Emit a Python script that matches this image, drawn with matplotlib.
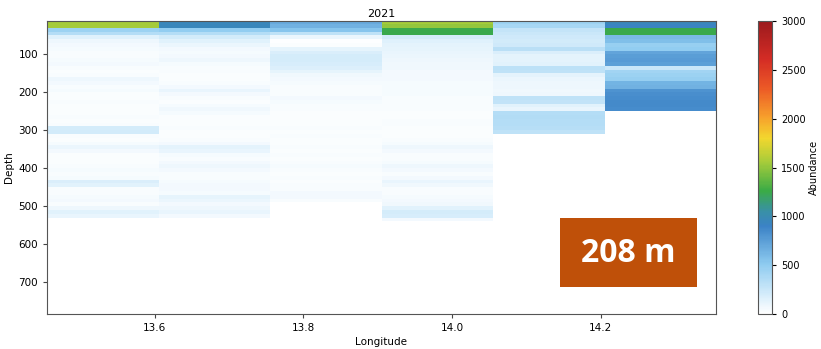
import numpy as np
import matplotlib
matplotlib.use("Agg")
import matplotlib.pyplot as plt
from matplotlib.colors import LinearSegmentedColormap
from matplotlib.patches import Rectangle

# Longitude cell edges (6 columns) and depth bins (10 m, 10..560 m)
lon_edges = [13.455, 13.605, 13.755, 13.905, 14.055, 14.205, 14.355]
depth_edges = list(range(10, 570, 10))

# Abundance per longitude column, one value per depth bin
col_1 = [1550, 1550, 450, 350, 160, 90, 70, 50, 40, 40, 50, 60, 40, 30, 40, 90, 60, 40, 50, 30,
         30, 40, 30, 30, 30, 40, 30, 40, 200, 220, 40, 30, 50, 100, 60, 30, 30, 30, 40, 50,
         40, 50, 180, 150, 40, 40, 50, 70, 40, 90, 150, 110, 0, 0, 0]
col_2 = [950, 950, 500, 350, 220, 150, 100, 60, 50, 60, 90, 50, 40, 40, 30, 30, 40, 60, 110, 60,
         40, 30, 50, 80, 50, 30, 30, 30, 40, 30, 30, 40, 60, 130, 110, 50, 40, 60, 90, 60,
         40, 40, 50, 70, 60, 50, 120, 100, 60, 90, 110, 60, 0, 0, 0]
col_3 = [700, 650, 550, 300, 100, 20, 30, 120, 180, 200, 200, 190, 170, 120, 80, 60, 50, 40, 40, 40,
         60, 50, 40, 40, 30, 30, 30, 30, 40, 30, 40, 30, 30, 40, 30, 40, 30, 40, 50, 40,
         30, 40, 30, 40, 40, 60, 60, 40, 0, 0, 0, 0, 0, 0, 0]
col_4 = [1550, 1500, 1250, 1250, 200, 160, 140, 120, 110, 100, 90, 80, 80, 70, 60, 60, 50, 50, 50, 50,
         40, 40, 40, 40, 30, 30, 40, 40, 30, 30, 30, 40, 50, 90, 60, 40, 40, 50, 90, 60,
         40, 60, 110, 80, 40, 40, 50, 70, 80, 150, 200, 190, 60, 0, 0]
col_5 = [450, 400, 280, 250, 230, 220, 230, 320, 180, 140, 130, 150, 310, 300, 140, 100, 90, 90, 80, 90,
         300, 290, 150, 110, 340, 360, 350, 340, 330, 300, 0, 0, 0, 0, 0, 0, 0, 0, 0, 0,
         0, 0, 0, 0, 0, 0, 0, 0, 0, 0, 0, 0, 0, 0, 0]
col_6 = [950, 920, 1250, 1250, 600, 580, 480, 500, 720, 760, 770, 740, 250, 430, 450, 480, 640, 650, 820, 840,
         850, 860, 860, 850, 0, 0, 0, 0, 0, 0, 0, 0, 0, 0, 0, 0, 0, 0, 0, 0,
         0, 0, 0, 0, 0, 0, 0, 0, 0, 0, 0, 0, 0, 0, 0]

x_ticks = [13.6, 13.8, 14.0, 14.2]
y_ticks = [100, 200, 300, 400, 500, 600, 700]
cbar_ticks = [0, 500, 1000, 1500, 2000, 2500, 3000]

abundance = np.array([col_1, col_2, col_3, col_4, col_5, col_6]).T

cmap = LinearSegmentedColormap.from_list("abund", [
    (0.0, "#ffffff"), (0.06, "#d9eefb"), (0.17, "#8ecbf0"), (0.30, "#3b82c6"),
    (0.35, "#3990a6"), (0.42, "#3aab46"), (0.52, "#a8cc3a"), (0.60, "#f2d72e"),
    (0.67, "#f7a12c"), (0.77, "#ec5a26"), (0.87, "#d42c25"), (1.0, "#9b1a1d")])

fig = plt.figure(figsize=(8.21, 3.49), dpi=100)
ax = fig.add_axes([47 / 821, 1 - 313.5 / 349, 669 / 821, 292.5 / 349])
mesh = ax.pcolormesh(lon_edges, depth_edges, abundance, cmap=cmap, vmin=0, vmax=3000)
ax.set_xlim(13.455, 14.355)
ax.set_ylim(783, 12)
ax.set_xticks(x_ticks)
ax.set_yticks(y_ticks)
ax.tick_params(labelsize=7.5, length=3, color="#444444")
for s in ax.spines.values():
    s.set_color("#555555")
ax.set_xlabel("Longitude", fontsize=7.5, labelpad=3)
ax.set_ylabel("Depth", fontsize=7.5, labelpad=3)
ax.set_title("2021", fontsize=8, pad=3)

cax = fig.add_axes([757.5 / 821, 1 - 314.3 / 349, 14.5 / 821, 293.6 / 349])
cb = fig.colorbar(mesh, cax=cax, ticks=cbar_ticks)
cb.ax.tick_params(labelsize=7, length=3)
cb.outline.set_edgecolor("#555555")
cb.set_label("Abundance", fontsize=7, labelpad=2)

# depth label box
fig.patches.append(Rectangle((560 / 821, 1 - 287 / 349), 137 / 821, 69 / 349,
                             transform=fig.transFigure, facecolor="#bf5009",
                             edgecolor="none", zorder=5))
fig.text(628.5 / 821, 1 - 253 / 349, "208 m", color="white", fontsize=23,
         fontweight="bold", family=["Open Sans", "DejaVu Sans"],
         ha="center", va="center", zorder=6)

fig.savefig("out.png", dpi=100)
